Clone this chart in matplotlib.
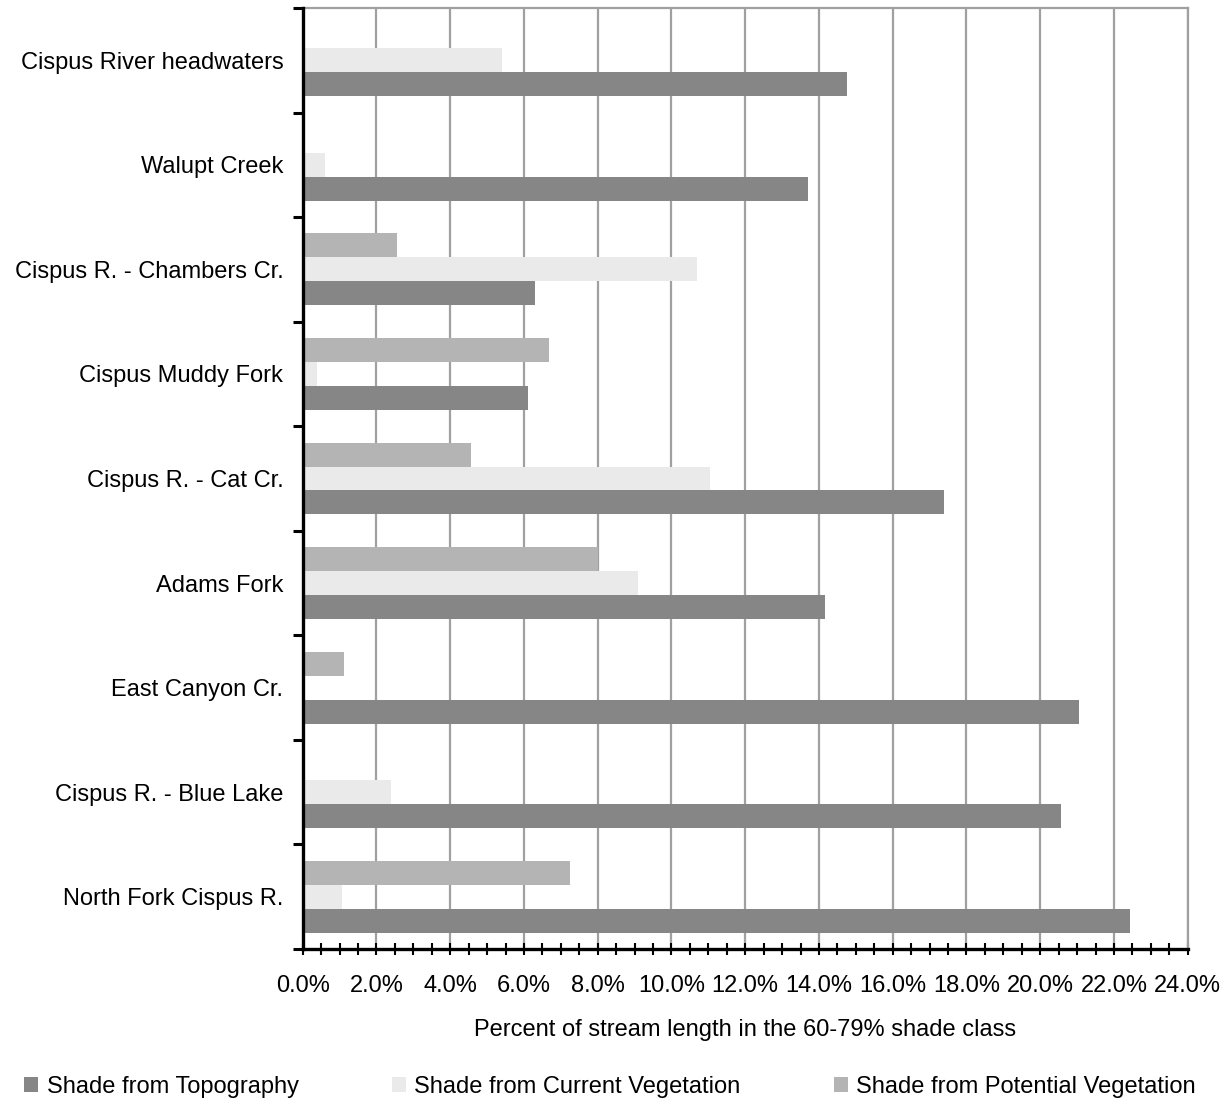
import matplotlib.pyplot as plt
import numpy as np
from matplotlib.patches import Patch
from matplotlib.ticker import MultipleLocator, FuncFormatter

plt.rcParams['font.family'] = ['Liberation Sans', 'DejaVu Sans']

# categories listed bottom to top
sites = ["North Fork Cispus R.", "Cispus R. - Blue Lake", "East Canyon Cr.",
         "Adams Fork", "Cispus R. - Cat Cr.", "Cispus Muddy Fork",
         "Cispus R. - Chambers Cr.", "Walupt Creek", "Cispus River headwaters"]

topography = [22.43, 20.56, 21.04, 14.17, 17.38, 6.11, 6.30, 13.69, 14.77]
current_veg = [1.07, 2.39, 0.0, 9.09, 11.05, 0.39, 10.70, 0.61, 5.40]
potential_veg = [7.26, 0.0, 1.12, 8.02, 4.57, 6.68, 2.56, 0.0, 0.0]

series_names = ["Shade from Topography", "Shade from Current Vegetation",
                "Shade from Potential Vegetation"]
colors = ["#868686", "#eaeaea", "#b4b4b4"]

fs = 17

fig = plt.figure(figsize=(12.3, 11.03), dpi=100)
ax = fig.add_axes([0.2461, 0.1396, 0.7195, 0.8532])

y = np.arange(len(sites))
h = 0.229
for i, (vals, c) in enumerate(zip([topography, current_veg, potential_veg], colors)):
    ax.barh(y + (i - 1) * h, vals, height=h, color=c, zorder=2)

ax.set_xlim(0, 24)
ax.set_ylim(-0.5, len(sites) - 0.5)

ax.xaxis.set_major_locator(MultipleLocator(2))
ax.xaxis.set_minor_locator(MultipleLocator(0.5))
ax.xaxis.set_major_formatter(FuncFormatter(lambda v, p: f"{v:.1f}%"))
ax.tick_params(axis='x', which='both', direction='inout', length=9, width=1.5,
               colors='black', labelsize=fs, pad=14)

ax.set_yticks(y)
ax.set_yticklabels(sites)
ax.set_yticks(np.arange(-0.5, len(sites)), minor=True)
ax.tick_params(axis='y', which='major', length=0, labelsize=fs, pad=14)
ax.tick_params(axis='y', which='minor', direction='out', length=7, width=2.2,
               colors='black')

ax.grid(axis='x', which='major', color='#a0a0a0', linewidth=1.6, zorder=0)
ax.set_axisbelow(True)

for side in ['left', 'bottom']:
    ax.spines[side].set_color('black')
    ax.spines[side].set_linewidth(2.4)
    ax.spines[side].set_zorder(3)
for side in ['top', 'right']:
    ax.spines[side].set_color('#a0a0a0')
    ax.spines[side].set_linewidth(1.6)

ax.set_xlabel("Percent of stream length in the 60-79% shade class",
              fontsize=fs, labelpad=16)

handles = [Patch(facecolor=c, edgecolor='none') for c in colors]
fig.legend(handles, series_names, loc='center', ncol=3,
           bbox_to_anchor=(0.496, 0.0145), frameon=False, fontsize=fs,
           handlelength=0.6, handleheight=0.6, handletextpad=0.35,
           columnspacing=3.95, borderpad=0)

fig.savefig("out.png", dpi=100)
